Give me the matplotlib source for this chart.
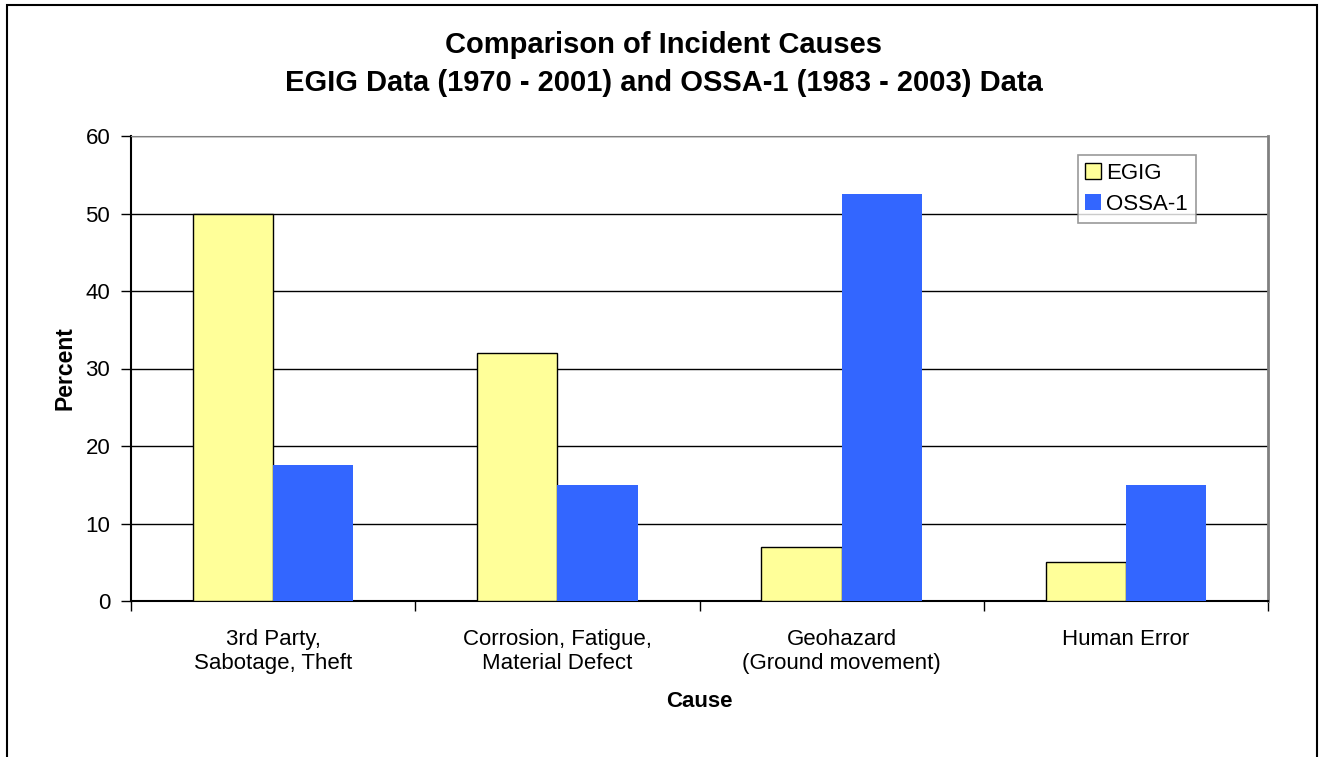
import matplotlib.pyplot as plt
from matplotlib.patches import Rectangle
import numpy as np

plt.rcParams['font.family'] = ['Liberation Sans', 'DejaVu Sans']

causes = ['3rd Party,\nSabotage, Theft', 'Corrosion, Fatigue,\nMaterial Defect',
          'Geohazard\n(Ground movement)', 'Human Error']
egig = [50, 32, 7, 5]
ossa = [17.5, 15, 52.5, 15]

fig = plt.figure(figsize=(13.19, 7.57), dpi=100)
ax = fig.add_axes([131/1319, 1 - 601/757, (1268-131)/1319, (601-136)/757])

x = np.arange(len(causes))
w = 0.282
ax.bar(x - w/2, egig, w, color='#FFFF99', edgecolor='black', linewidth=1, label='EGIG', zorder=3)
ax.bar(x + w/2, ossa, w, color='#3366FF', edgecolor='none', label='OSSA-1', zorder=3)

ax.set_xlim(-0.5, 3.5)
ax.set_ylim(0, 60)
ax.set_yticks(range(0, 61, 10))
ax.yaxis.grid(True, color='black', linewidth=1)
ax.set_axisbelow(True)

# category boundary ticks
ax.set_xticks(np.arange(-0.5, 3.6, 1))
ax.set_xticklabels([])
ax.set_xticks(x, minor=True)
ax.set_xticklabels(causes, minor=True, fontsize=16)
ax.tick_params(axis='x', which='minor', length=0, pad=20)
ax.tick_params(axis='x', which='major', length=7, width=1, direction='out')
ax.tick_params(axis='y', labelsize=16, length=7, width=1, direction='out', pad=8)

ax.spines['top'].set_color('#808080')
ax.spines['right'].set_color('#808080')
ax.spines['right'].set_linewidth(2)
ax.spines['left'].set_linewidth(1.5)
ax.spines['bottom'].set_linewidth(1.5)

ax.set_xlabel('Cause', fontsize=16, fontweight='bold', labelpad=12)
ax.set_ylabel('Percent', fontsize=16.5, fontweight='bold', labelpad=6)

fig.text(0.503, 0.915, 'Comparison of Incident Causes\nEGIG Data (1970 - 2001) and OSSA-1 (1983 - 2003) Data',
         ha='center', va='center', fontsize=21, fontweight='bold', linespacing=1.45)

leg = ax.legend(loc='upper right', bbox_to_anchor=(1196/1319, 1 - 155/757),
                bbox_transform=fig.transFigure, fontsize=16, frameon=True,
                fancybox=False, edgecolor='#808080', handlelength=0.7, handleheight=0.7,
                handletextpad=0.25, borderpad=0.35, labelspacing=0.45, borderaxespad=0)
leg.get_frame().set_linewidth(1.2)

fig.patches.append(Rectangle((7/1319, -0.05), (1317-7)/1319, 0.05 + 1 - 5/757,
                             transform=fig.transFigure, fill=False, edgecolor='black',
                             linewidth=1.5, clip_on=False))

fig.savefig('out.png', dpi=100)
